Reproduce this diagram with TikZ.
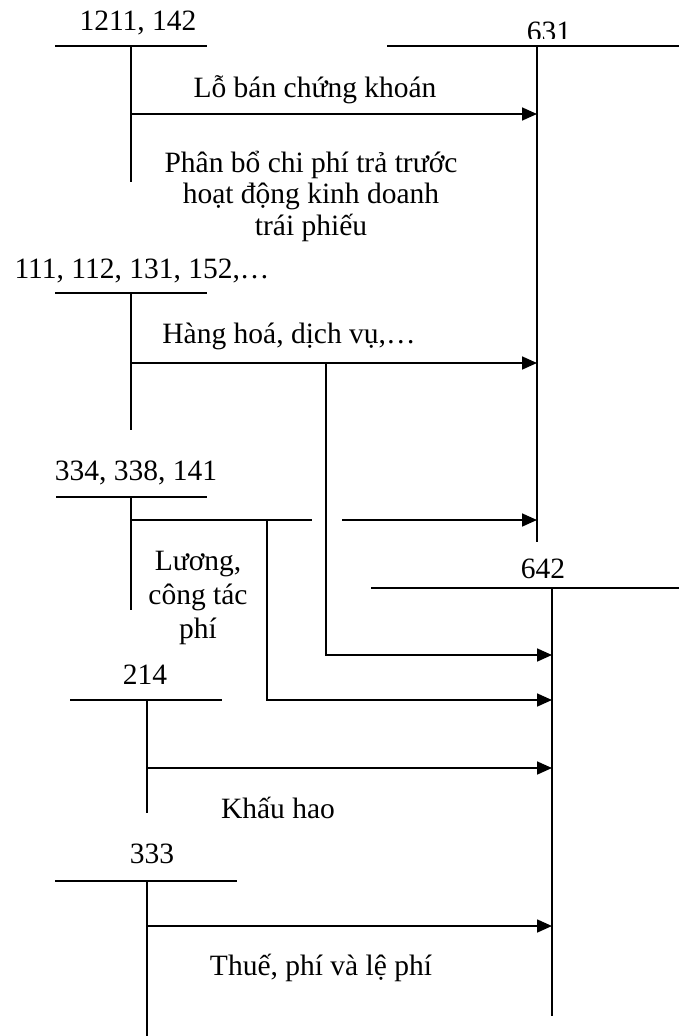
\documentclass[tikz,border=0pt]{standalone}
\usepackage{fontspec}
\setmainfont{Liberation Serif}
\usetikzlibrary{arrows.meta}
\begin{document}
\begin{tikzpicture}[x=1pt,y=-1pt,
  line/.style={line width=1.7pt},
  flow/.style={line width=1.7pt,-{Triangle[length=15pt,width=13pt]}},
  lbl/.style={font=\fontsize{29.5}{29.5}\selectfont, inner sep=0pt, anchor=base},
  lblw/.style={font=\fontsize{29.5}{34}\selectfont, inner sep=0pt, anchor=base, align=center},
  lblt/.style={font=\fontsize{29.5}{31.5}\selectfont, inner sep=0pt, anchor=base, align=center},
]
\useasboundingbox (0,0) rectangle (679,1036);

% ---- account 1211, 142
\node[lbl] (t1211) at (138,30) {1211, 142};
\coordinate (a1L) at (55,46);  \coordinate (a1R) at (207,46);
\coordinate (a1T) at (131,46); \coordinate (a1B) at (131,182);
\draw[line] (a1L) -- (a1R);
\draw[line] (a1T) -- (a1B);

% ---- account 631
\begin{scope}
  \clip (500,0) rectangle (600,38);
  \node[lbl] (t631) at (549,41) {631};
\end{scope}
\coordinate (c631L) at (387,46); \coordinate (c631R) at (679,46);
\coordinate (c631T) at (537,46); \coordinate (c631B) at (537,542);
\draw[line] (c631L) -- (c631R);
\draw[line] (c631T) -- (c631B);

% arrow 1
\coordinate (f1) at (131,114);
\draw[flow] (f1) -- (f1 -| c631T);
\node[lbl] (l1) at (315,97) {Lỗ bán chứng khoán};
\node[lblt] (l2) at (311,235) {Phân bổ chi phí trả trước\\hoạt động kinh doanh\\trái phiếu};

% ---- account 111, 112, ...
\node[lbl] (t111) at (142,278) {111, 112, 131, 152,…};
\coordinate (a2L) at (55,293);  \coordinate (a2R) at (207,293);
\coordinate (a2T) at (131,293); \coordinate (a2B) at (131,430);
\draw[line] (a2L) -- (a2R);
\draw[line] (a2T) -- (a2B);
\coordinate (f2) at (131,363);
\draw[flow] (f2) -- (f2 -| c631T);
\node[lbl] (l3) at (289,343) {Hàng hoá, dịch vụ,…};

% ---- account 642
\node[lbl] (t642) at (543,578) {642};
\coordinate (c642L) at (371,588); \coordinate (c642R) at (679,588);
\coordinate (c642T) at (552,588); \coordinate (c642B) at (552,1016);
\draw[line] (c642L) -- (c642R);
\draw[line] (c642T) -- (c642B);

% branch of 111 to 642
\coordinate (b2a) at (326,363); \coordinate (b2b) at (326,655);
\draw[flow] (b2a) -- (b2b) -- (b2b -| c642T);

% ---- account 334, 338, 141
\node[lbl] (t334) at (136,480) {334, 338, 141};
\coordinate (a3L) at (56,497);  \coordinate (a3R) at (207,497);
\coordinate (a3T) at (131,497); \coordinate (a3B) at (131,610);
\draw[line] (a3L) -- (a3R);
\draw[line] (a3T) -- (a3B);
\coordinate (f3) at (131,520); \coordinate (f3e) at (312,520);
\coordinate (f3s) at (342,520);
\draw[line] (f3) -- (f3e);
\draw[flow] (f3s) -- (f3s -| c631T);
\coordinate (b3a) at (267,520); \coordinate (b3b) at (267,700);
\draw[flow] (b3a) -- (b3b) -- (b3b -| c642T);
\node[lblw] (l4) at (198,638) {Lương,\\công tác\\phí};

% ---- account 214
\node[lbl] (t214) at (145,684) {214};
\coordinate (a4L) at (70,700);  \coordinate (a4R) at (222,700);
\coordinate (a4T) at (147,700); \coordinate (a4B) at (147,813);
\draw[line] (a4L) -- (a4R);
\draw[line] (a4T) -- (a4B);
\coordinate (f4) at (147,768);
\draw[flow] (f4) -- (f4 -| c642T);
\node[lbl] (l5) at (278,818) {Khấu hao};

% ---- account 333
\node[lbl] (t333) at (152,863) {333};
\coordinate (a5L) at (55,881);  \coordinate (a5R) at (237,881);
\coordinate (a5T) at (147,881); \coordinate (a5B) at (147,1036);
\draw[line] (a5L) -- (a5R);
\draw[line] (a5T) -- (a5B);
\coordinate (f5) at (147,926);
\draw[flow] (f5) -- (f5 -| c642T);
\node[lbl] (l6) at (321,975) {Thuế, phí và lệ phí};
\end{tikzpicture}
\end{document}
